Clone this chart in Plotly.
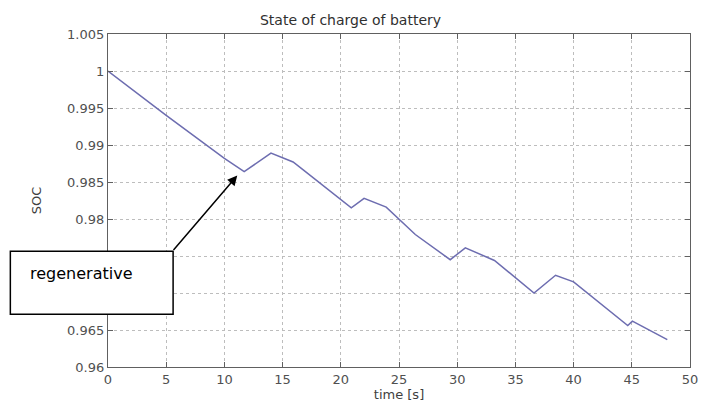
import plotly.graph_objects as go

# data
time_s = [0, 5, 10, 11.7, 14.0, 15.9, 16.8, 20.9, 22.0, 23.9, 26.4, 29.4,
          30.7, 33.2, 36.6, 38.45, 40.0, 44.65, 45.05, 48.05]
soc = [1.0, 0.9940, 0.9882, 0.9864, 0.9889, 0.9877, 0.9866, 0.9815, 0.9828,
       0.9816, 0.9779, 0.9745, 0.9761, 0.9744, 0.9700, 0.9724, 0.9715,
       0.9656, 0.9662, 0.9637]

x_ticks = [0, 5, 10, 15, 20, 25, 30, 35, 40, 45, 50]
y_ticks = [0.96, 0.965, 0.97, 0.975, 0.98, 0.985, 0.99, 0.995, 1.0, 1.005]
y_ticktext = ["0.96", "0.965", "0.97", "0.975", "0.98", "0.985", "0.99",
              "0.995", "1", "1.005"]

title_text = "State of charge of battery"
x_title = "time [s]"
y_title = "SOC"
note_text = "regenerative"

W, H = 701, 403
ML, MR, MT, MB = 108, 3, 34, 35
PW, PH = W - ML - MR, H - MT - MB


def px_x(p):
    return (p - ML) / PW


def px_y(p):
    return (H - MB - p) / PH


tick_font = dict(family="DejaVu Sans", size=13, color="#505050")

fig = go.Figure()
fig.add_trace(go.Scatter(x=time_s, y=soc, mode="lines",
                         line=dict(color="#6d6db0", width=1.5),
                         showlegend=False, hoverinfo="skip"))

axis_common = dict(showline=True, linecolor="#606060", linewidth=1.2,
                   mirror="ticks", ticks="inside", ticklen=5,
                   tickcolor="#606060", showgrid=True, gridcolor="#bdbdbd",
                   griddash="dot", gridwidth=1, zeroline=False,
                   tickfont=tick_font, ticklabeloverflow="allow")

fig.update_xaxes(range=[0, 50], tickvals=x_ticks, title=dict(
    text=x_title, font=dict(family="DejaVu Sans", size=13, color="#404040"),
    standoff=4), **axis_common)
fig.update_yaxes(range=[0.96, 1.005], tickvals=y_ticks, ticktext=y_ticktext,
                 title=dict(text=y_title, font=dict(family="DejaVu Sans",
                                                    size=13, color="#404040"),
                            standoff=22), **axis_common)

# annotation box
fig.add_shape(type="rect", xref="paper", yref="paper",
              x0=px_x(9), x1=px_x(174), y0=px_y(315), y1=px_y(252),
              line=dict(color="black", width=1.5), fillcolor="white",
              layer="above")
fig.add_annotation(xref="paper", yref="paper", x=px_x(27), y=px_y(274),
                   xanchor="left", yanchor="middle", text=note_text,
                   showarrow=False,
                   font=dict(family="DejaVu Sans", size=16, color="black"))
# arrow
fig.add_annotation(xref="paper", yref="paper", x=px_x(239), y=px_y(176),
                   ax=174 - 239, ay=252 - 176, text="", showarrow=True,
                   arrowhead=2, arrowsize=1.3, arrowwidth=1.5,
                   arrowcolor="black")

fig.update_layout(
    width=W, height=H,
    margin=dict(l=ML, r=MR, t=MT, b=MB),
    paper_bgcolor="white", plot_bgcolor="white",
    title=dict(text=title_text, x=px_x(403), xanchor="center",
               y=1 - 20 / H, yanchor="middle",
               font=dict(family="DejaVu Sans", size=14, color="#303030")),
)

fig.write_html("out.html")
